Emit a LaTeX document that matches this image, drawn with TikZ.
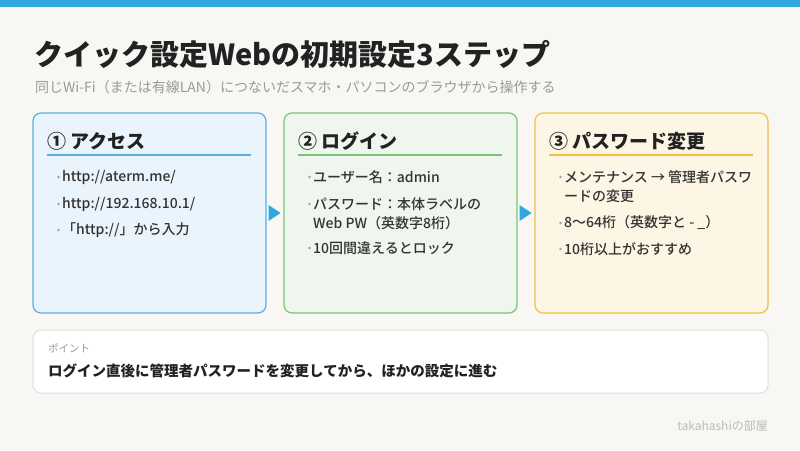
\documentclass[tikz,border=0pt]{standalone}
\usepackage{fontspec}
\setmainfont{Noto Sans CJK JP}
\newfontfamily\mediumfont{Noto Sans CJK JP Medium}
\usetikzlibrary{calc}
\definecolor{bgc}{HTML}{F8F7F4}
\definecolor{barc}{HTML}{2FA8E0}
\definecolor{inkc}{HTML}{222222}
\definecolor{subc}{HTML}{9A9A9A}
\definecolor{bodyc}{HTML}{333333}
\definecolor{dotc}{HTML}{A0A0A0}
\definecolor{bluefill}{HTML}{EAF4FC}
\definecolor{blueline}{HTML}{5BAEE0}
\definecolor{greenfill}{HTML}{EEF6EE}
\definecolor{greenline}{HTML}{78C47A}
\definecolor{yellowfill}{HTML}{FEF6E5}
\definecolor{yellowline}{HTML}{F1C142}
\definecolor{pointline}{HTML}{DEDEDE}
\definecolor{signc}{HTML}{BBBBBB}

\begin{document}
\begin{tikzpicture}[x=1pt,y=-1pt,
  stepbox/.style={rounded corners=8pt,line width=1.2pt,minimum width=233pt,minimum height=200pt,inner sep=0pt},
  headtext/.style={anchor=base west,inner sep=0pt,text=inkc,font=\fontsize{19}{19}\selectfont\bfseries},
  itemtext/.style={anchor=west,inner sep=0pt,align=left,text=bodyc,font=\fontsize{14}{19}\selectfont\mediumfont},
  itemdot/.style={fill=dotc}]
  \fill[bgc] (0,0) rectangle (800,450);
  \fill[barc] (0,0) rectangle (800,7);
  \node[anchor=base west,inner sep=0pt,text=inkc,font=\fontsize{29}{29}\selectfont\bfseries] (title) at (34,65) {クイック設定Webの初期設定3ステップ};
  \node[anchor=base west,inner sep=0pt,text=subc,font=\fontsize{14}{14}\selectfont] (subtitle) at (35,92) {同じWi-Fi（または有線LAN）につないだスマホ・パソコンのブラウザから操作する};

  \node[stepbox,fill=bluefill,draw=blueline] (access) at (149.5,213) {};
  \node[stepbox,fill=greenfill,draw=greenline] (login) at (400.5,213) {};
  \node[stepbox,fill=yellowfill,draw=yellowline] (passwd) at (651.5,213) {};
  \fill[barc] ($(access.east)+(2,-8)$) -- ++(12,8) -- ++(-12,8) -- cycle;
  \fill[barc] ($(login.east)+(2,-8)$) -- ++(12,8) -- ++(-12,8) -- cycle;

  \node[headtext] (accesshead) at (47,148) {① アクセス};
  \draw[blueline,line width=1.2pt] (47,155) -- (251,155);
  \fill[itemdot] (58.5,177) circle (1.3);
  \node[itemtext] (a1) at (62,177) {http://aterm.me/};
  \fill[itemdot] (58.5,204) circle (1.3);
  \node[itemtext] (a2) at (62,204) {http://192.168.10.1/};
  \fill[itemdot] (58.5,230) circle (1.3);
  \node[itemtext] (a3) at (62,230) {「http://」から入力};

  \node[headtext] (loginhead) at (298,148) {② ログイン};
  \draw[greenline,line width=1.2pt] (298,155) -- (502,155);
  \fill[itemdot] (309.5,177) circle (1.3);
  \node[itemtext] (l1) at (313,177) {ユーザー名：admin};
  \fill[itemdot] (309.5,204) circle (1.3);
  \node[itemtext] (l2) at (313,213.5) {パスワード：本体ラベルの\\Web PW（英数字8桁）};
  \fill[itemdot] (309.5,248) circle (1.3);
  \node[itemtext] (l3) at (313,248) {10回間違えるとロック};

  \node[headtext] (passwdhead) at (549,148) {③ パスワード変更};
  \draw[yellowline,line width=1.2pt] (549,155) -- (753,155);
  \fill[itemdot] (560.5,177) circle (1.3);
  \node[itemtext] (p1) at (564,186.5) {メンテナンス → 管理者パスワ\\ードの変更};
  \fill[itemdot] (560.5,223) circle (1.3);
  \node[itemtext] (p2) at (564,223) {8〜64桁（英数字と - \_）};
  \fill[itemdot] (560.5,249) circle (1.3);
  \node[itemtext] (p3) at (564,249) {10桁以上がおすすめ};

  \node[rounded corners=8pt,draw=pointline,fill=white,line width=1pt,minimum width=735pt,minimum height=63pt,inner sep=0pt] (point) at (400.5,361.5) {};
  \node[anchor=west,inner sep=0pt,text=subc,font=\fontsize{10.5}{10.5}\selectfont] (pointlabel) at (48,348) {ポイント};
  \node[anchor=west,inner sep=0pt,text=inkc,font=\fontsize{14.5}{14.5}\selectfont\bfseries] (pointtext) at (48,371) {ログイン直後に管理者パスワードを変更してから、ほかの設定に進む};
  \node[anchor=east,inner sep=0pt,text=signc,font=\fontsize{12}{12}\selectfont] (sign) at (768,426) {takahashiの部屋};
\end{tikzpicture}
\end{document}
